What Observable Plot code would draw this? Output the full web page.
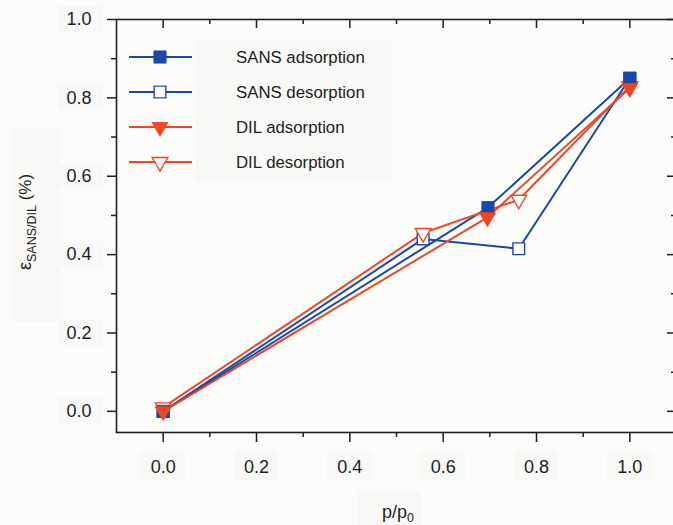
<!DOCTYPE html>
<html><head><meta charset="utf-8">
<script src="https://cdn.jsdelivr.net/npm/d3@7"></script>
<script src="https://cdn.jsdelivr.net/npm/@observablehq/plot@0.6"></script>
<style>
html,body{margin:0;padding:0;background:#fcfcfa;overflow:hidden;}
#chart svg{display:block;max-width:none !important;}
</style>
</head><body><div id="chart"></div>
<script>
// ---- data ----
const seriesNames = ["SANS adsorption", "SANS desorption", "DIL adsorption", "DIL desorption"];
const sansAdsP = [0, 0.696, 1.0];
const sansAdsE = [0, 0.52, 0.85];
const sansDesP = [1.0, 0.762, 0.557, 0];
const sansDesE = [0.85, 0.415, 0.44, 0];
const dilAdsP = [0, 0.695, 1.0];
const dilAdsE = [0, 0.495, 0.825];
const dilDesP = [1.0, 0.762, 0.557, 0];
const dilDesE = [0.83, 0.54, 0.455, 0.01];
const xMajor = [0, 0.2, 0.4, 0.6, 0.8, 1.0];
const xMinor = [0.1, 0.3, 0.5, 0.7, 0.9];
const yMajor = [0, 0.2, 0.4, 0.6, 0.8, 1.0];
const yMinor = [0.1, 0.3, 0.5, 0.7, 0.9];

// ---- styles ----
const BLUE = "#1a48a6";
const RED = "#f04626";
const BG = "#fcfcfa";
const BOX = "#f8f8f6";
const AX = "#1e1e1e";
const FONT = "'Liberation Sans', Arial, sans-serif";

const rows = (P, E) => P.map((p, i) => ({p, e: E[i]}));
const sAds = rows(sansAdsP, sansAdsE);
const sDes = rows(sansDesP, sansDesE);
const dAds = rows(dilAdsP, dilAdsE);
const dDes = rows(dilDesP, dilDesE);

const styles = [
  {data: sAds, stroke: BLUE, symbol: "square", fill: BLUE, r: 6.9, rotate: 0},
  {data: sDes, stroke: BLUE, symbol: "square", fill: BG, r: 6.6, rotate: 0},
  {data: dAds, stroke: RED, symbol: "triangle", fill: RED, r: 6.0, rotate: 180},
  {data: dDes, stroke: RED, symbol: "triangle", fill: BG, r: 5.8, rotate: 180}
];
const drawOrder = [1, 3, 0, 2];

const W = 679, H = 525, mL = 116, mT = 19, mB = 93, mR = 3;
const plotH = H - mT - mB, plotW = W - mL - mR;

const marks = [];
for (const s of styles) {
  marks.push(Plot.line(s.data, {x: "p", y: "e", stroke: s.stroke, strokeWidth: 2}));
}
for (const k of drawOrder) {
  const s = styles[k];
  marks.push(Plot.dot(s.data, {x: "p", y: "e", symbol: s.symbol, r: s.r, rotate: s.rotate,
    fill: s.fill, stroke: s.stroke, strokeWidth: s.fill === BG ? 1.4 : 0.8}));
}
marks.push(
  Plot.axisX(xMajor, {anchor: "bottom", tickSize: 10, tickPadding: 18, tickFormat: d3.format(".1f"),
    fontSize: 18, stroke: AX, strokeWidth: 1.5, color: "#222"}),
  Plot.axisX(xMinor, {anchor: "bottom", tickSize: 5, tickFormat: () => "", stroke: AX, strokeWidth: 1.5}),
  Plot.axisY(yMajor, {anchor: "left", tickSize: 9, tickPadding: 16, tickFormat: d3.format(".1f"),
    fontSize: 18, stroke: AX, strokeWidth: 1.5, color: "#222"}),
  Plot.axisY(yMinor, {anchor: "left", tickSize: 5, tickFormat: () => "", stroke: AX, strokeWidth: 1.5}),
  Plot.ruleX(xMajor, {x: d => d, insetBottom: plotH - 9, stroke: AX, strokeWidth: 1.5}),
  Plot.ruleX(xMinor, {x: d => d, insetBottom: plotH - 5, stroke: AX, strokeWidth: 1.5}),
  Plot.ruleY(yMajor, {y: d => d, insetLeft: plotW - 9, stroke: AX, strokeWidth: 1.5}),
  Plot.ruleY(yMinor, {y: d => d, insetLeft: plotW - 5, stroke: AX, strokeWidth: 1.5}),
  Plot.frame({stroke: AX, strokeWidth: 1.6})
);

const chart = Plot.plot({
  width: W, height: H,
  marginLeft: mL, marginTop: mT, marginBottom: mB, marginRight: mR,
  x: {domain: [-0.1, 1.1], label: null, axis: null},
  y: {domain: [-0.054, 1.0], label: null, axis: null},
  style: {background: BG, fontFamily: FONT, color: "#222", overflow: "visible"},
  marks
});
document.getElementById("chart").appendChild(chart);

const svg = d3.select(chart);
const xs = chart.scale("x"), ys = chart.scale("y");

// faint label backdrops (as in the scanned figure)
const bg = svg.insert("g", ":first-child").attr("fill", BOX);
xMajor.forEach(v => bg.append("rect").attr("x", xs.apply(v) - 22).attr("y", 452).attr("width", 44).attr("height", 28));
yMajor.forEach(v => bg.append("rect").attr("x", 58).attr("y", ys.apply(v) - 13).attr("width", 45).attr("height", 26));
bg.append("rect").attr("x", 196).attr("y", 40).attr("width", 196).attr("height", 140);
bg.append("rect").attr("x", 12).attr("y", 128).attr("width", 48).attr("height", 194);
bg.append("rect").attr("x", 357).attr("y", 493).attr("width", 64).attr("height", 32);

// legend
const lg = svg.append("g").attr("font-family", FONT).attr("font-size", 16.8)
  .attr("fill", "#222").attr("text-anchor", "start");
const rowY = [57, 92, 127, 162];
styles.forEach((s, i) => {
  const g = lg.append("g").attr("transform", `translate(0,${rowY[i]})`);
  g.append("line").attr("x1", 129).attr("x2", 192).attr("y1", 0).attr("y2", 0)
    .attr("stroke", s.stroke).attr("stroke-width", 2);
  const sym = s.symbol === "square" ? d3.symbolSquare : d3.symbolTriangle;
  g.append("path").attr("d", d3.symbol(sym, s.r * s.r * Math.PI)())
    .attr("transform", `translate(160,0) rotate(${s.rotate})`)
    .attr("fill", s.fill).attr("stroke", s.stroke).attr("stroke-width", s.fill === BG ? 1.4 : 0.8);
  g.append("text").attr("x", 236).attr("y", 0).attr("dy", "0.36em").attr("text-anchor", "start").text(seriesNames[i]);
});

// y title
const yt = svg.append("text").attr("font-family", FONT).attr("fill", "#222")
  .attr("transform", "translate(31,222) rotate(-90)").attr("text-anchor", "middle");
yt.append("tspan").attr("font-size", 18).text("ε");
yt.append("tspan").attr("font-size", 12.5).attr("dy", 5).text("SANS/DIL");
yt.append("tspan").attr("font-size", 17).attr("dy", -5).text(" (%)");

// x title
const xt = svg.append("text").attr("font-family", FONT).attr("fill", "#222")
  .attr("x", 398).attr("y", 518).attr("text-anchor", "middle");
xt.append("tspan").attr("font-size", 18).text("p/p");
xt.append("tspan").attr("font-size", 12.5).attr("dy", 4).text("0");
</script>
</body></html>
